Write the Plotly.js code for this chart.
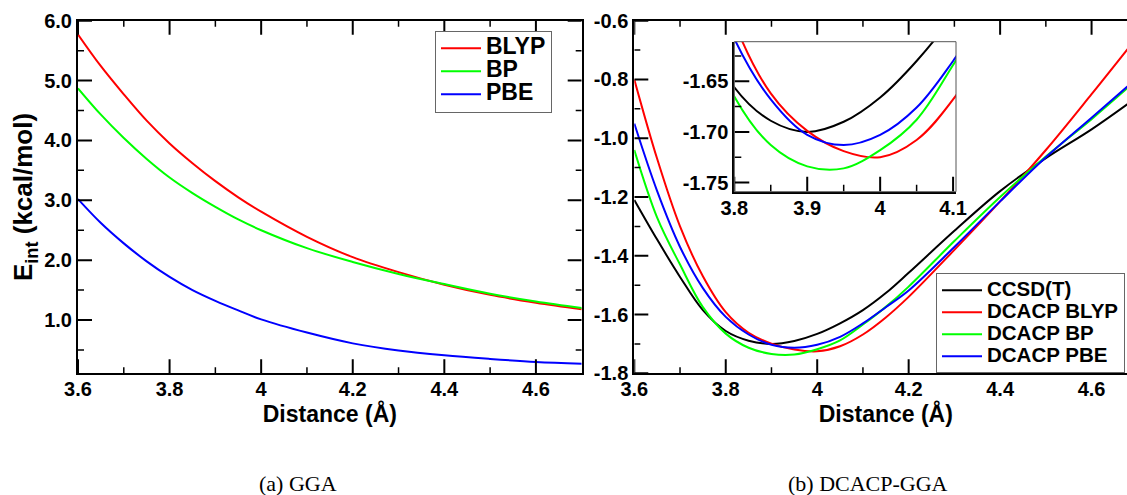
<!DOCTYPE html>
<html><head><meta charset="utf-8">
<script src="https://cdn.plot.ly/plotly-3.0.1.min.js"></script>
<style>html,body{margin:0;padding:0;overflow:hidden;background:#fff}#chart{width:1140px;height:495px}</style>
</head><body><div id="chart"></div><script>
// ---- data: panel (a) GGA ----
const distA = [3.6,3.65,3.7,3.75,3.8,3.85,3.9,3.95,4.0,4.1,4.2,4.3,4.4,4.5,4.6,4.7];
const blypA = [5.77,5.24,4.77,4.33,3.95,3.62,3.32,3.05,2.81,2.39,2.05,1.80,1.59,1.42,1.29,1.18];
const bpA   = [4.87,4.43,4.04,3.69,3.38,3.12,2.89,2.68,2.50,2.20,1.97,1.77,1.60,1.44,1.31,1.20];
const pbeA  = [3.02,2.62,2.28,1.98,1.72,1.50,1.32,1.16,1.01,0.79,0.61,0.49,0.41,0.35,0.30,0.27];
const namesA = ['BLYP','BP','PBE'];
// ---- data: panel (b) DCACP-GGA ----
const distB = [3.6,3.65,3.7,3.75,3.8,3.85,3.9,3.95,4.0,4.05,4.1,4.15,4.2,4.3,4.4,4.5,4.6,4.7];
const ccsdB = [-1.21,-1.345,-1.472,-1.585,-1.656,-1.689,-1.700,-1.690,-1.666,-1.630,-1.585,-1.527,-1.458,-1.315,-1.180,-1.068,-0.970,-0.860];
const blypB = [-0.80,-1.07,-1.30,-1.47,-1.592,-1.662,-1.699,-1.719,-1.725,-1.708,-1.668,-1.610,-1.540,-1.380,-1.215,-1.040,-0.850,-0.655];
const bpB   = [-1.04,-1.27,-1.43,-1.575,-1.665,-1.713,-1.734,-1.736,-1.718,-1.688,-1.634,-1.574,-1.505,-1.350,-1.200,-1.062,-0.935,-0.800];
const pbeB  = [-0.95,-1.18,-1.37,-1.51,-1.608,-1.668,-1.703,-1.713,-1.703,-1.676,-1.630,-1.575,-1.518,-1.370,-1.215,-1.065,-0.930,-0.795];
const namesB = ['CCSD(T)','DCACP BLYP','DCACP BP','DCACP PBE'];
// ---- tick labels and tick positions ----
const yTickValsA = [1,2,3,4,5,6];
const yTickTextA = ['1.0','2.0','3.0','4.0','5.0','6.0'];
const yMinorA = [0.5,1.5,2.5,3.5,4.5,5.5];
const yTickValsB = [-1.8,-1.6,-1.4,-1.2,-1.0,-0.8,-0.6];
const yTickTextB = ['-1.8','-1.6','-1.4','-1.2','-1.0','-0.8','-0.6'];
const yMinorB = [-1.7,-1.5,-1.3,-1.1,-0.9,-0.7];
const xMajor = [3.6,3.8,4.0,4.2,4.4,4.6];
const xMinor = [3.7,3.9,4.1,4.3,4.5];
const yTickValsIn = [-1.75,-1.70,-1.65];
const yTickTextIn = ['-1.75','-1.70','-1.65'];
const yMinorIn = [-1.725,-1.675,-1.625];
const xMajorIn = [3.8,3.9,4.0,4.1];
const xMinorIn = [3.85,3.95,4.05];
const captions = ['(a) GGA','(b) DCACP-GGA'];

const W = 1140, H = 495;
const px = v => v / W, py = v => 1 - v / H;
const SANS = 'Liberation Sans, Arial, Helvetica, sans-serif';
const colorsA = ['#ff0000','#00ff00','#0000ff'];
const colorsB = ['#000000','#ff0000','#00ff00','#0000ff'];
function big(t, s){ return '<span style="font-size:' + s + 'px">' + t + '</span>'; }

const rangeXA = [3.6,4.7], rangeYA = [0.11,6.0];
const rangeXB = [3.6,4.7], rangeYB = [-1.8,-0.6];
const rangeXI = [3.8,4.104], rangeYI = [-1.759,-1.611];

const traces = [];
[blypA,bpA,pbeA].forEach((ys,i)=>traces.push({x:distA,y:ys,type:'scatter',mode:'lines',name:big(namesA[i],23),
  line:{color:colorsA[i],width:2,shape:'spline',smoothing:1},xaxis:'x',yaxis:'y',legend:'legend'}));
[ccsdB,blypB,bpB,pbeB].forEach((ys,i)=>traces.push({x:distB,y:ys,type:'scatter',mode:'lines',name:big(namesB[i],20.5),
  line:{color:colorsB[i],width:2,shape:'spline',smoothing:1},xaxis:'x2',yaxis:'y2',legend:'legend2'}));
[ccsdB,blypB,bpB,pbeB].forEach((ys,i)=>traces.push({x:distB,y:ys,type:'scatter',mode:'lines',showlegend:false,
  line:{color:colorsB[i],width:2,shape:'spline',smoothing:1},xaxis:'x3',yaxis:'y3'}));

// inward tick marks, drawn as line segments through the axes' own scales
function tickTrace(xa, ya, xr, yr, pxW, pxH, xVals, yVals, len, top, right, width){
  const ux = (xr[1]-xr[0])/pxW, uy = (yr[1]-yr[0])/pxH;
  const X = [], Y = [];
  xVals.forEach(v=>{ X.push(v,v,null); Y.push(yr[0], yr[0]+len*uy, null);
    if(top){ X.push(v,v,null); Y.push(yr[1], yr[1]-len*uy, null); } });
  yVals.forEach(v=>{ X.push(xr[0], xr[0]+len*ux, null); Y.push(v,v,null);
    if(right){ X.push(xr[1], xr[1]-len*ux, null); Y.push(v,v,null); } });
  return {x:X,y:Y,type:'scatter',mode:'lines',showlegend:false,hoverinfo:'skip',connectgaps:false,
    line:{color:'#000',width:width,shape:'linear'},xaxis:xa,yaxis:ya};
}
const hMain = 352.6, wA = 503.7, wB = 503, hIn = 150, wIn = 221.7;
traces.push(tickTrace('x','y',rangeXA,rangeYA,wA,hMain,xMajor,yTickValsA,14,true,true,2));
traces.push(tickTrace('x','y',rangeXA,rangeYA,wA,hMain,xMinor,yMinorA,6,true,true,1.5));
traces.push(tickTrace('x2','y2',rangeXB,rangeYB,wB,hMain,xMajor,yTickValsB,14,true,false,2));
traces.push(tickTrace('x2','y2',rangeXB,rangeYB,wB,hMain,xMinor,yMinorB,6,true,false,1.5));
traces.push(tickTrace('x3','y3',rangeXI,rangeYI,wIn,hIn,xMajorIn,yTickValsIn,15,false,false,2));
traces.push(tickTrace('x3','y3',rangeXI,rangeYI,wIn,hIn,xMinorIn,yMinorIn,7,false,false,1.5));

const tickfont = {family:SANS,size:20,weight:'bold',color:'#000'};
function ax(extra){
  return Object.assign({showline:true,linecolor:'#000',linewidth:2,mirror:true,ticks:'',
    showgrid:false,zeroline:false,tickfont:Object.assign({},tickfont)}, extra);
}
const mainY = [py(373.3), py(20.7)];
const xTitle = () => ({text:'Distance (Å)',font:{family:SANS,size:23,weight:'bold'},standoff:4});
const layout = {
  width:W,height:H,margin:{l:0,r:0,t:0,b:0},paper_bgcolor:'#fff',plot_bgcolor:'#fff',
  font:{family:SANS,color:'#000'},
  xaxis: ax({domain:[px(78),px(581.7)],range:rangeXA,anchor:'y',tickmode:'array',tickvals:xMajor,ticklabelstandoff:-3,title:xTitle()}),
  yaxis: ax({domain:mainY,range:rangeYA,anchor:'x',tickmode:'array',tickvals:yTickValsA,ticktext:yTickTextA,
    title:{text:'E<sub>int</sub> (kcal/mol)',font:{family:SANS,size:26,weight:'bold'},standoff:4}}),
  xaxis2: ax({domain:[px(634.3),px(1137.3)],range:rangeXB,anchor:'y2',tickmode:'array',tickvals:xMajor,ticklabelstandoff:-3,title:xTitle()}),
  yaxis2: ax({domain:mainY,range:rangeYB,anchor:'x2',tickmode:'array',tickvals:yTickValsB,ticktext:yTickTextB}),
  xaxis3: ax({domain:[px(734.3),px(956)],range:rangeXI,anchor:'y3',mirror:false,tickmode:'array',tickvals:xMajorIn,ticklabelstandoff:-3}),
  yaxis3: ax({domain:[py(191.7),py(41.7)],range:rangeYI,anchor:'x3',mirror:false,tickmode:'array',tickvals:yTickValsIn,ticktext:yTickTextIn}),
  legend:{x:px(435),y:py(30.7),xanchor:'left',yanchor:'top',bgcolor:'#fff',bordercolor:'#666',borderwidth:1,itemwidth:40,
    font:{family:SANS,size:15.4,weight:'bold',color:'#000'},tracegroupgap:0},
  legend2:{x:px(936),y:py(273.3),xanchor:'left',yanchor:'top',bgcolor:'#fff',bordercolor:'#666',borderwidth:1,itemwidth:40,
    font:{family:SANS,size:14.6,weight:'bold',color:'#000'},tracegroupgap:0},
  shapes:[{type:'rect',xref:'x3 domain',yref:'y3 domain',x0:0,x1:1,y0:0,y1:1,line:{color:'#555',width:1}}],
  annotations:[
    {text:captions[0],xref:'paper',yref:'paper',x:px(298),y:py(483),xanchor:'center',yanchor:'middle',showarrow:false,
      font:{family:'Liberation Serif, Times New Roman, serif',size:22,color:'#000'}},
    {text:captions[1],xref:'paper',yref:'paper',x:px(868),y:py(483),xanchor:'center',yanchor:'middle',showarrow:false,
      font:{family:'Liberation Serif, Times New Roman, serif',size:22,color:'#000'}}
  ],
  showlegend:true
};
Plotly.newPlot('chart',traces,layout,{displayModeBar:false});
</script></body></html>
